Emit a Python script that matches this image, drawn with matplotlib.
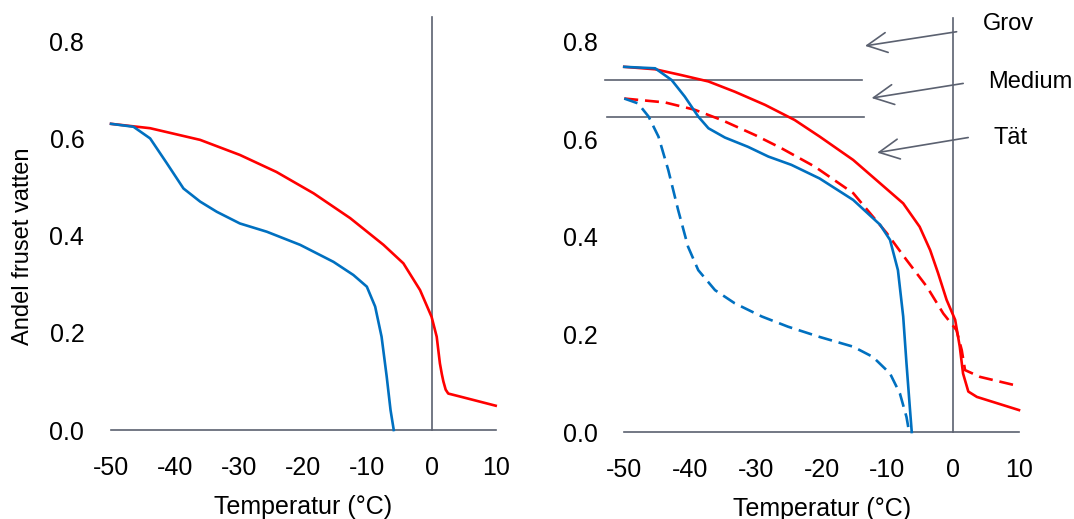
import matplotlib.pyplot as plt

plt.rcParams['font.family'] = ['Liberation Sans', 'DejaVu Sans']

# left panel
left_red_x = [-50, -43.9, -36.1, -29.9, -24.2, -18.4, -12.7, -7.5, -4.4, -1.8, 0.0, 0.8, 1.3, 1.6, 1.84, 2.2, 2.6, 4.4, 10]
left_red_y = [0.630, 0.621, 0.597, 0.566, 0.531, 0.487, 0.436, 0.381, 0.343, 0.288, 0.233, 0.192, 0.137, 0.115, 0.100, 0.083, 0.075, 0.069, 0.050]
left_blue_x = [-50, -46.5, -43.9, -41.3, -38.7, -36.1, -33.5, -29.9, -25.7, -20.5, -15.3, -12.2, -10.1, -8.8, -7.8, -7.0, -6.4, -5.9]
left_blue_y = [0.630, 0.624, 0.600, 0.549, 0.497, 0.470, 0.449, 0.425, 0.408, 0.381, 0.346, 0.319, 0.295, 0.254, 0.192, 0.110, 0.041, 0.0]

# right panel
red_solid_x = [-50, -45.3, -41.3, -37.2, -33.2, -28.6, -24.1, -20.3, -15.2, -11.1, -7.6, -5.1, -3.5, -2.3, -1.0, 0.3, 1.0, 1.5, 2.3, 3.6, 10]
red_solid_y = [0.749, 0.744, 0.732, 0.719, 0.698, 0.671, 0.640, 0.606, 0.558, 0.510, 0.469, 0.421, 0.373, 0.326, 0.271, 0.230, 0.175, 0.120, 0.083, 0.072, 0.045]
red_dash_x = [-50, -43.8, -39.3, -35.2, -30.1, -26.1, -21.0, -15.2, -10.1, -7.1, -4.0, -1.5, 0.5, 1.3, 1.8, 4.1, 10]
red_dash_y = [0.684, 0.676, 0.661, 0.640, 0.609, 0.582, 0.544, 0.490, 0.408, 0.353, 0.298, 0.243, 0.209, 0.168, 0.127, 0.113, 0.094]
blue_solid_x = [-50, -45.3, -42.8, -40.8, -38.75, -37.2, -34.7, -31.2, -28.1, -24.6, -20.3, -15.2, -11.1, -9.6, -8.4, -7.6, -7.1, -6.6, -6.3]
blue_solid_y = [0.749, 0.746, 0.722, 0.688, 0.647, 0.623, 0.604, 0.585, 0.565, 0.548, 0.520, 0.476, 0.425, 0.394, 0.332, 0.237, 0.141, 0.052, 0.0]
blue_dash_x = [-50, -47.9, -46.3, -44.8, -43.3, -41.8, -40.3, -38.75, -36.2, -33.2, -29.1, -25.1, -20.3, -15.2, -12.2, -9.6, -8.1, -7.1, -6.7]
blue_dash_y = [0.684, 0.674, 0.647, 0.606, 0.537, 0.455, 0.380, 0.332, 0.291, 0.264, 0.237, 0.216, 0.195, 0.175, 0.154, 0.120, 0.079, 0.031, 0.0]

# legend-like lines and labels in right panel
ref_lines_y = [0.722, 0.647]
ref_lines_x = [(-52.9, -13.9), (-52.6, -13.5)]
labels = ['Grov', 'Medium', 'Tät']
label_pos = [(4.5, 0.837), (5.3, 0.717), (6.2, 0.604)]
arrow_tail = [(0.52, 0.821), (1.52, 0.715), (2.28, 0.604)]
arrow_head = [(-13.4, 0.792), (-12.4, 0.685), (-11.55, 0.573)]

xticks = [-50, -40, -30, -20, -10, 0, 10]
yticks = [0.0, 0.2, 0.4, 0.6, 0.8]

red = '#FF0000'
blue = '#0070C0'
gray = '#5B6170'
lw = 1.9
dash = (5.3, 2.6)

fig = plt.figure(figsize=(10.74, 5.19), dpi=100)
ax1 = fig.add_axes([0.0974, 0.1621, 0.3701, 0.8053])
ax2 = fig.add_axes([0.5751, 0.1582, 0.3798, 0.8079])

for ax in (ax1, ax2):
    ax.set_xlim(-51, 11)
    ax.set_ylim(-0.01, 0.85)
    for s in ax.spines.values():
        s.set_visible(False)
    ax.set_xticks(xticks)
    ax.set_xticklabels([str(t) for t in xticks])
    ax.set_yticks(yticks)
    ax.set_yticklabels(['%.1f' % t for t in yticks])
    ax.tick_params(length=0, labelsize=18)
    ax.tick_params(axis='x', pad=15)
    ax.tick_params(axis='y', pad=14.6)
    ax.plot([-50, 10], [0, 0], color=gray, lw=1.2, clip_on=False, zorder=1)
    ax.plot([0, 0], [0, 0.85], color=gray, lw=1.2, clip_on=False, zorder=1)
    ax.set_xlabel('Temperatur (°C)', fontsize=18, labelpad=11)

ax1.plot(left_red_x, left_red_y, color=red, lw=lw, zorder=3)
ax1.plot(left_blue_x, left_blue_y, color=blue, lw=lw, zorder=3)

ax2.plot(red_solid_x, red_solid_y, color=red, lw=lw, zorder=3)
ax2.plot(red_dash_x, red_dash_y, color=red, lw=lw, dashes=dash, zorder=3)
ax2.plot(blue_solid_x, blue_solid_y, color=blue, lw=lw, zorder=3)
ax2.plot(blue_dash_x, blue_dash_y, color=blue, lw=lw, dashes=dash, zorder=3)

for yv, (x0, x1) in zip(ref_lines_y, ref_lines_x):
    ax2.plot([x0, x1], [yv, yv], color=gray, lw=1.2, clip_on=False, zorder=2)

for lab, pos, tail, head in zip(labels, label_pos, arrow_tail, arrow_head):
    ax2.text(pos[0], pos[1], lab, fontsize=17, ha='left', va='center', clip_on=False)
    ax2.annotate('', xy=head, xytext=tail, annotation_clip=False,
                 arrowprops=dict(arrowstyle='->,head_length=0.4,head_width=0.2',
                                 color=gray, lw=1.2, mutation_scale=36,
                                 shrinkA=0, shrinkB=0))

fig.text(23 / 1074, 1 - 246 / 519, 'Andel fruset vatten', rotation=90,
         ha='center', va='center', fontsize=17)

fig.savefig('out.png', dpi=100)
